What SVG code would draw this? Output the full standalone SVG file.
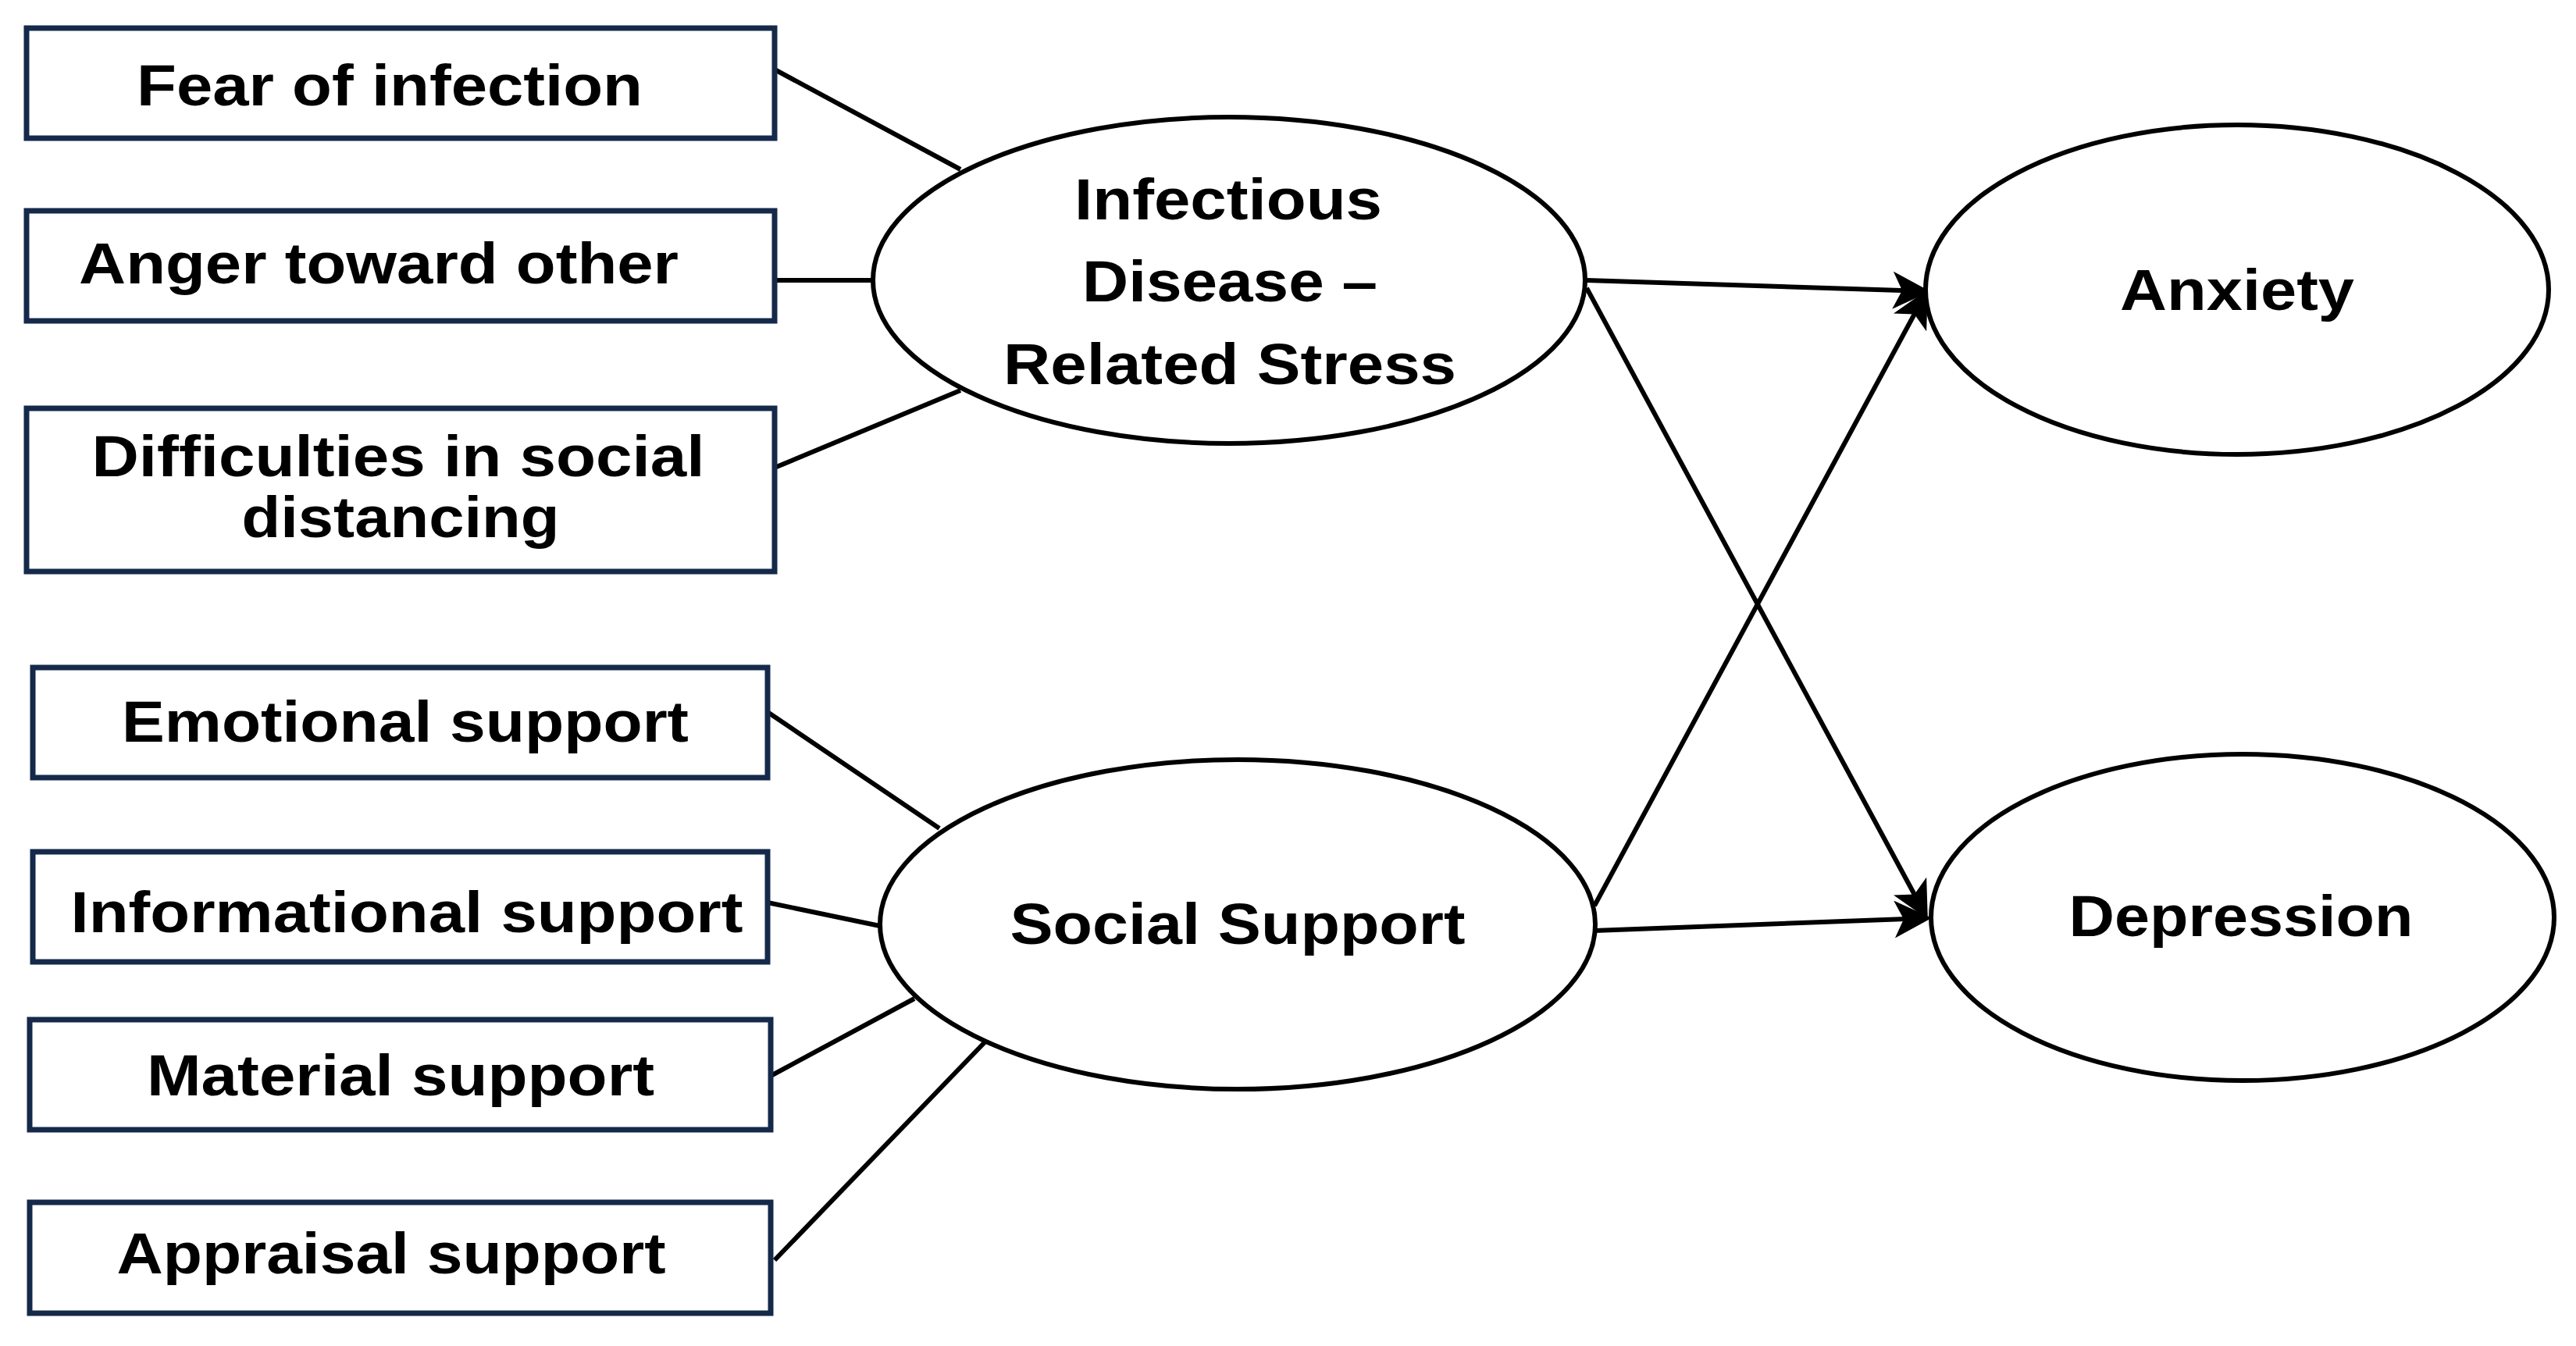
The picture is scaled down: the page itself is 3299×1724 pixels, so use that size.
<svg xmlns="http://www.w3.org/2000/svg" width="3299" height="1724" viewBox="0 0 3299 1724">
<style>
.b{fill:#fff;stroke:#15294a;stroke-width:7}
.e{fill:#fff;stroke:#000;stroke-width:6}
.t{font-family:"Liberation Sans",Arial,sans-serif;font-weight:bold;font-size:74px;fill:#000}
.l{stroke:#000;stroke-width:6;fill:none}
</style>
<defs><marker id="a" markerWidth="8" markerHeight="8" refX="7" refY="4" orient="auto" markerUnits="strokeWidth"><path d="M0,0 L8,4 L0,8 L2,4 Z" fill="#000"/></marker></defs>
<rect width="3299" height="1724" fill="#fff"/>
<g id="connectors">
<line class="l" x1="992" y1="89" x2="1230" y2="217"/>
<line class="l" x1="992" y1="359" x2="1118" y2="359"/>
<line class="l" x1="992" y1="599" x2="1230" y2="500"/>
<line class="l" x1="983" y1="912" x2="1203" y2="1061"/>
<line class="l" x1="983" y1="1156" x2="1127" y2="1186"/>
<line class="l" x1="987" y1="1378" x2="1171" y2="1279"/>
<line class="l" x1="992" y1="1614" x2="1262" y2="1334"/>
<line class="l" x1="2032" y1="359" x2="2466" y2="373" marker-end="url(#a)"/>
<line class="l" x1="2032" y1="369" x2="2466" y2="1172" marker-end="url(#a)"/>
<line class="l" x1="2042" y1="1160" x2="2466" y2="376" marker-end="url(#a)"/>
<line class="l" x1="2042" y1="1192" x2="2468" y2="1176" marker-end="url(#a)"/>
</g>
<g id="fear"><rect class="b" x="34" y="36" width="958" height="141"/><text class="t" x="499" y="135" text-anchor="middle" textLength="648" lengthAdjust="spacingAndGlyphs">Fear of infection</text></g>
<g id="anger"><rect class="b" x="34" y="270" width="958" height="141"/><text class="t" x="485" y="363" text-anchor="middle" textLength="768" lengthAdjust="spacingAndGlyphs">Anger toward other</text></g>
<g id="difficulties"><rect class="b" x="34" y="523" width="958" height="209"/><text class="t" x="510" y="610" text-anchor="middle" textLength="785" lengthAdjust="spacingAndGlyphs">Difficulties in social</text><text class="t" x="513" y="688" text-anchor="middle" textLength="407" lengthAdjust="spacingAndGlyphs">distancing</text></g>
<g id="emotional"><rect class="b" x="42" y="855" width="941" height="141"/><text class="t" x="519" y="950" text-anchor="middle" textLength="726" lengthAdjust="spacingAndGlyphs">Emotional support</text></g>
<g id="informational"><rect class="b" x="42" y="1091" width="941" height="141"/><text class="t" x="521" y="1194" text-anchor="middle" textLength="861" lengthAdjust="spacingAndGlyphs">Informational support</text></g>
<g id="material"><rect class="b" x="38" y="1306" width="949" height="141"/><text class="t" x="513" y="1403" text-anchor="middle" textLength="650" lengthAdjust="spacingAndGlyphs">Material support</text></g>
<g id="appraisal"><rect class="b" x="38" y="1540" width="949" height="142"/><text class="t" x="501" y="1631" text-anchor="middle" textLength="703" lengthAdjust="spacingAndGlyphs">Appraisal support</text></g>
<g id="stress"><ellipse class="e" cx="1574" cy="359" rx="456" ry="209"/><text class="t" x="1573" y="281" text-anchor="middle" textLength="394" lengthAdjust="spacingAndGlyphs">Infectious</text><text class="t" x="1575" y="386" text-anchor="middle" textLength="378" lengthAdjust="spacingAndGlyphs">Disease –</text><text class="t" x="1575" y="492" text-anchor="middle" textLength="580" lengthAdjust="spacingAndGlyphs">Related Stress</text></g>
<g id="social"><ellipse class="e" cx="1585" cy="1184" rx="458" ry="211"/><text class="t" x="1585" y="1209" text-anchor="middle" textLength="583" lengthAdjust="spacingAndGlyphs">Social Support</text></g>
<g id="anxiety"><ellipse class="e" cx="2865" cy="371" rx="399" ry="211"/><text class="t" x="2865" y="397" text-anchor="middle" textLength="300" lengthAdjust="spacingAndGlyphs">Anxiety</text></g>
<g id="depression"><ellipse class="e" cx="2872" cy="1175" rx="399" ry="209"/><text class="t" x="2870" y="1199" text-anchor="middle" textLength="441" lengthAdjust="spacingAndGlyphs">Depression</text></g>
</svg>
